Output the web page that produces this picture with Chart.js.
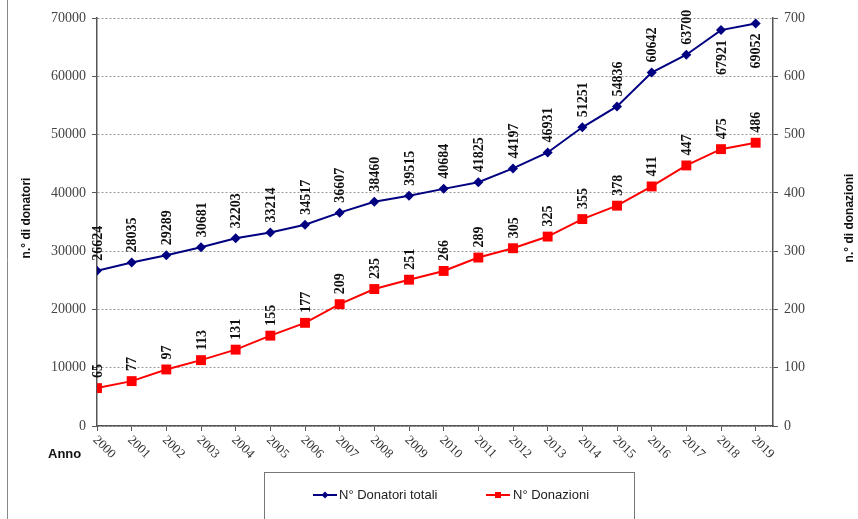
<!DOCTYPE html>
<html>
<head>
<meta charset="utf-8">
<script src="https://cdn.jsdelivr.net/npm/chart.js@4"></script>
<style>
    html, body { margin: 0; padding: 0; background: #fff; }
    #chart { display: block; }
</style>
</head>
<body>
<canvas id="chart" width="858" height="519"></canvas>
<script>
// Dati
const anni = [2000, 2001, 2002, 2003, 2004, 2005, 2006, 2007, 2008, 2009,
    2010, 2011, 2012, 2013, 2014, 2015, 2016, 2017, 2018, 2019];
const donatoriTotali = [26624, 28035, 29289, 30681, 32203, 33214, 34517, 36607, 38460, 39515,
    40684, 41825, 44197, 46931, 51251, 54836, 60642, 63700, 67921, 69052];
const donazioni = [65, 77, 97, 113, 131, 155, 177, 209, 235, 251,
    266, 289, 305, 325, 355, 378, 411, 447, 475, 486];

const titoloSx = 'n.° di donatori';
const titoloDx = 'n.° di donazioni';
const titoloX = 'Anno';

const serif = '"Liberation Serif", "Times New Roman", serif';
const sans = '"Liberation Sans", Arial, sans-serif';

// etichette valori ruotate sopra i punti
const valueLabels = {
    id: 'valueLabels',
    afterDatasetsDraw(chart) {
        const ctx = chart.ctx;
        ctx.save();
        ctx.font = 'bold 14px ' + serif;
        ctx.fillStyle = '#111';
        ctx.textBaseline = 'middle';
        chart.data.datasets.forEach((ds, di) => {
            const meta = chart.getDatasetMeta(di);
            meta.data.forEach((pt, i) => {
                const txt = String(ds.data[i].y);
                const w = ctx.measureText(txt).width;
                const gap = 10;
                ctx.save();
                ctx.translate(pt.x + 1, pt.y);
                ctx.rotate(-Math.PI / 2);
                // se non c'è spazio sopra, metti sotto
                if (pt.y - gap - w < 0) {
                    ctx.textAlign = 'right';
                    ctx.fillText(txt, -gap, 0);
                } else {
                    ctx.textAlign = 'left';
                    ctx.fillText(txt, gap, 0);
                }
                ctx.restore();
            });
        });
        ctx.restore();
    }
};

// anni inclinati, titoli assi, legenda incorniciata
const decorations = {
    id: 'decorations',
    afterDraw(chart) {
        const { ctx, chartArea: { left, right, top, bottom }, scales: { x } } = chart;
        ctx.save();

        ctx.font = '13px ' + serif;
        ctx.fillStyle = '#333';
        ctx.textAlign = 'left';
        ctx.textBaseline = 'middle';
        anni.forEach(a => {
            const px = x.getPixelForValue(a);
            ctx.save();
            ctx.translate(px - 2, bottom + 12);
            ctx.rotate(Math.PI / 4);
            ctx.fillText(String(a), 0, 0);
            ctx.restore();
        });

        ctx.font = 'bold 13px ' + sans;
        ctx.fillStyle = '#111';
        ctx.textAlign = 'left';
        ctx.fillText(titoloX, 48, 454);

        ctx.font = 'bold 12px ' + sans;
        ctx.textAlign = 'center';
        [[27, titoloSx], [850, titoloDx]].forEach(([tx, t]) => {
            ctx.save();
            ctx.translate(tx, 218);
            ctx.rotate(-Math.PI / 2);
            ctx.fillText(t, 0, 0);
            ctx.restore();
        });

        // cornice esterna a sinistra
        ctx.strokeStyle = '#888';
        ctx.lineWidth = 1;
        ctx.beginPath();
        ctx.moveTo(7.5, 0);
        ctx.lineTo(7.5, 519);
        ctx.stroke();

        // legenda
        ctx.strokeStyle = '#777';
        ctx.strokeRect(264.5, 472.5, 370, 60);
        const items = [[313, 339], [486, 513]];
        ctx.font = '13px ' + sans;
        ctx.textAlign = 'left';
        chart.data.datasets.forEach((ds, i) => {
            const [lx, tx] = items[i];
            const ly = 495;
            ctx.strokeStyle = ds.borderColor;
            ctx.lineWidth = 2;
            ctx.beginPath();
            ctx.moveTo(lx, ly);
            ctx.lineTo(lx + 24, ly);
            ctx.stroke();
            ctx.fillStyle = ds.borderColor;
            ctx.beginPath();
            if (ds.pointStyle === 'rectRot') {
                ctx.moveTo(lx + 12, ly - 3.5);
                ctx.lineTo(lx + 15.5, ly);
                ctx.lineTo(lx + 12, ly + 3.5);
                ctx.lineTo(lx + 8.5, ly);
                ctx.closePath();
            } else {
                ctx.rect(lx + 9, ly - 3, 6, 6);
            }
            ctx.fill();
            ctx.fillStyle = '#222';
            ctx.fillText(ds.label, tx, ly);
        });

        ctx.restore();
    }
};

const punti = vals => anni.map((a, i) => ({ x: a, y: vals[i] }));
const numero = v => String(v);

new Chart(document.getElementById('chart'), {
    type: 'line',
    data: {
        datasets: [{
            label: 'N° Donatori totali',
            data: punti(donatoriTotali),
            yAxisID: 'y',
            borderColor: '#000080',
            backgroundColor: '#000080',
            borderWidth: 2,
            pointStyle: 'rectRot',
            pointRadius: 5,
            pointBorderWidth: 0,
            tension: 0
        }, {
            label: 'N° Donazioni',
            data: punti(donazioni),
            yAxisID: 'y2',
            borderColor: '#ff0000',
            backgroundColor: '#ff0000',
            borderWidth: 2,
            pointStyle: 'rect',
            pointRadius: 7,
            pointBorderWidth: 0,
            tension: 0
        }]
    },
    options: {
        responsive: false,
        animation: false,
        devicePixelRatio: 1,
        layout: { padding: { top: 18, left: 0, right: 0, bottom: 0 } },
        plugins: {
            legend: { display: false },
            tooltip: { enabled: false }
        },
        scales: {
            x: {
                type: 'linear',
                min: 2000,
                max: 2019.5,
                ticks: { stepSize: 1, includeBounds: false, display: false },
                grid: { drawOnChartArea: false, drawTicks: true, tickLength: 5, color: '#555' },
                border: { color: '#555', width: 1.5 },
                afterFit(s) { s.height = 93; }
            },
            y: {
                position: 'left',
                min: 0,
                max: 70000,
                ticks: { stepSize: 10000, callback: numero, font: { family: serif, size: 14 }, color: '#444', padding: 6 },
                grid: { color: '#9a9a9a', tickLength: 5, tickColor: '#555', tickBorderDash: [] },
                border: { color: '#555', width: 1.5, dash: [2, 2] },
                afterFit(s) { s.width = 97; }
            },
            y2: {
                position: 'right',
                min: 0,
                max: 700,
                ticks: { stepSize: 100, callback: numero, font: { family: serif, size: 14 }, color: '#444', padding: 6 },
                grid: { drawOnChartArea: false, tickLength: 5, color: '#555' },
                border: { color: '#555', width: 1.5 },
                afterFit(s) { s.width = 85; }
            }
        }
    },
    plugins: [valueLabels, decorations]
});
</script>
</body>
</html>
